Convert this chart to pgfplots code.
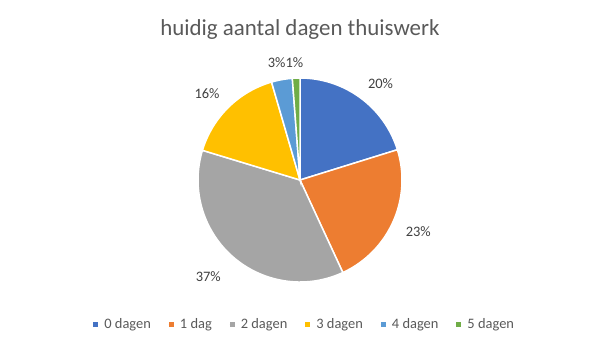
\documentclass[border=0pt]{standalone}
\usepackage{fontspec}
\setmainfont{Carlito}
\usepackage{pgfplots}
\pgfplotsset{compat=1.18}
\definecolor{c0}{HTML}{4472C4}
\definecolor{c1}{HTML}{ED7D31}
\definecolor{c2}{HTML}{A5A5A5}
\definecolor{c3}{HTML}{FFC000}
\definecolor{c4}{HTML}{5B9BD5}
\definecolor{c5}{HTML}{70AD47}
\definecolor{titlegray}{HTML}{595959}
\definecolor{labelgray}{HTML}{404040}
\begin{document}
\begin{tikzpicture}
\begin{axis}[
  scale only axis, width=600bp, height=360bp,
  xmin=0, xmax=600, ymin=0, ymax=360,
  hide axis, clip=false,
  legend columns=6,
  legend style={at={(0.507,0.1)}, anchor=center, draw=none, fill=none,
    font=\fontsize{14.5}{17}\selectfont, text=titlegray,
    /tikz/every even column/.append style={column sep=15bp},
    nodes={inner xsep=2bp}},
  legend image code/.code={\path (0bp,0bp) -- (8.5bp,0bp); \fill[#1,draw=none] (0bp,-2.5bp) rectangle (5bp,2.5bp);},
  slice/.style={draw=white, line width=1.5bp},
]
\path (axis cs:0,0) rectangle (axis cs:600,360);
% percentages: 20.2, 22.9, 36.6, 15.8, 3.3, 1.2
\addplot[slice, fill=c0] coordinates {(300,180)} -- ++({90-3.6*0}:102bp) arc[start angle={90-3.6*0}, delta angle={-3.6*20.2}, radius=102bp] -- cycle;
\addlegendentry{0 dagen}
\addplot[slice, fill=c1] coordinates {(300,180)} -- ++({90-3.6*20.2}:102bp) arc[start angle={90-3.6*20.2}, delta angle={-3.6*22.9}, radius=102bp] -- cycle;
\addlegendentry{1 dag}
\addplot[slice, fill=c2] coordinates {(300,180)} -- ++({90-3.6*43.1}:102bp) arc[start angle={90-3.6*43.1}, delta angle={-3.6*36.6}, radius=102bp] -- cycle;
\addlegendentry{2 dagen}
\addplot[slice, fill=c3] coordinates {(300,180)} -- ++({90-3.6*79.7}:102bp) arc[start angle={90-3.6*79.7}, delta angle={-3.6*15.8}, radius=102bp] -- cycle;
\addlegendentry{3 dagen}
\addplot[slice, fill=c4] coordinates {(300,180)} -- ++({90-3.6*95.5}:102bp) arc[start angle={90-3.6*95.5}, delta angle={-3.6*3.3}, radius=102bp] -- cycle;
\addlegendentry{4 dagen}
\addplot[slice, fill=c5] coordinates {(300,180)} -- ++({90-3.6*98.8}:102bp) arc[start angle={90-3.6*98.8}, delta angle={-3.6*1.2}, radius=102bp] -- cycle;
\addlegendentry{5 dagen}
% title
\node[anchor=base, text=titlegray, font=\fontsize{23}{28}\selectfont] at (axis cs:300,325) {huidig aantal dagen thuiswerk};
% data labels
\begin{scope}[every node/.style={text=labelgray, font=\fontsize{14.5}{17}\selectfont, inner sep=0pt}]
\node at (axis cs:380.5,276.2) {20\%};
\node at (axis cs:418.3,128) {23\%};
\node at (axis cs:208.3,83) {37\%};
\node at (axis cs:207,266) {16\%};
\node at (axis cs:285.5,297) {3\%1\%};
\end{scope}
\end{axis}
\end{tikzpicture}
\end{document}
